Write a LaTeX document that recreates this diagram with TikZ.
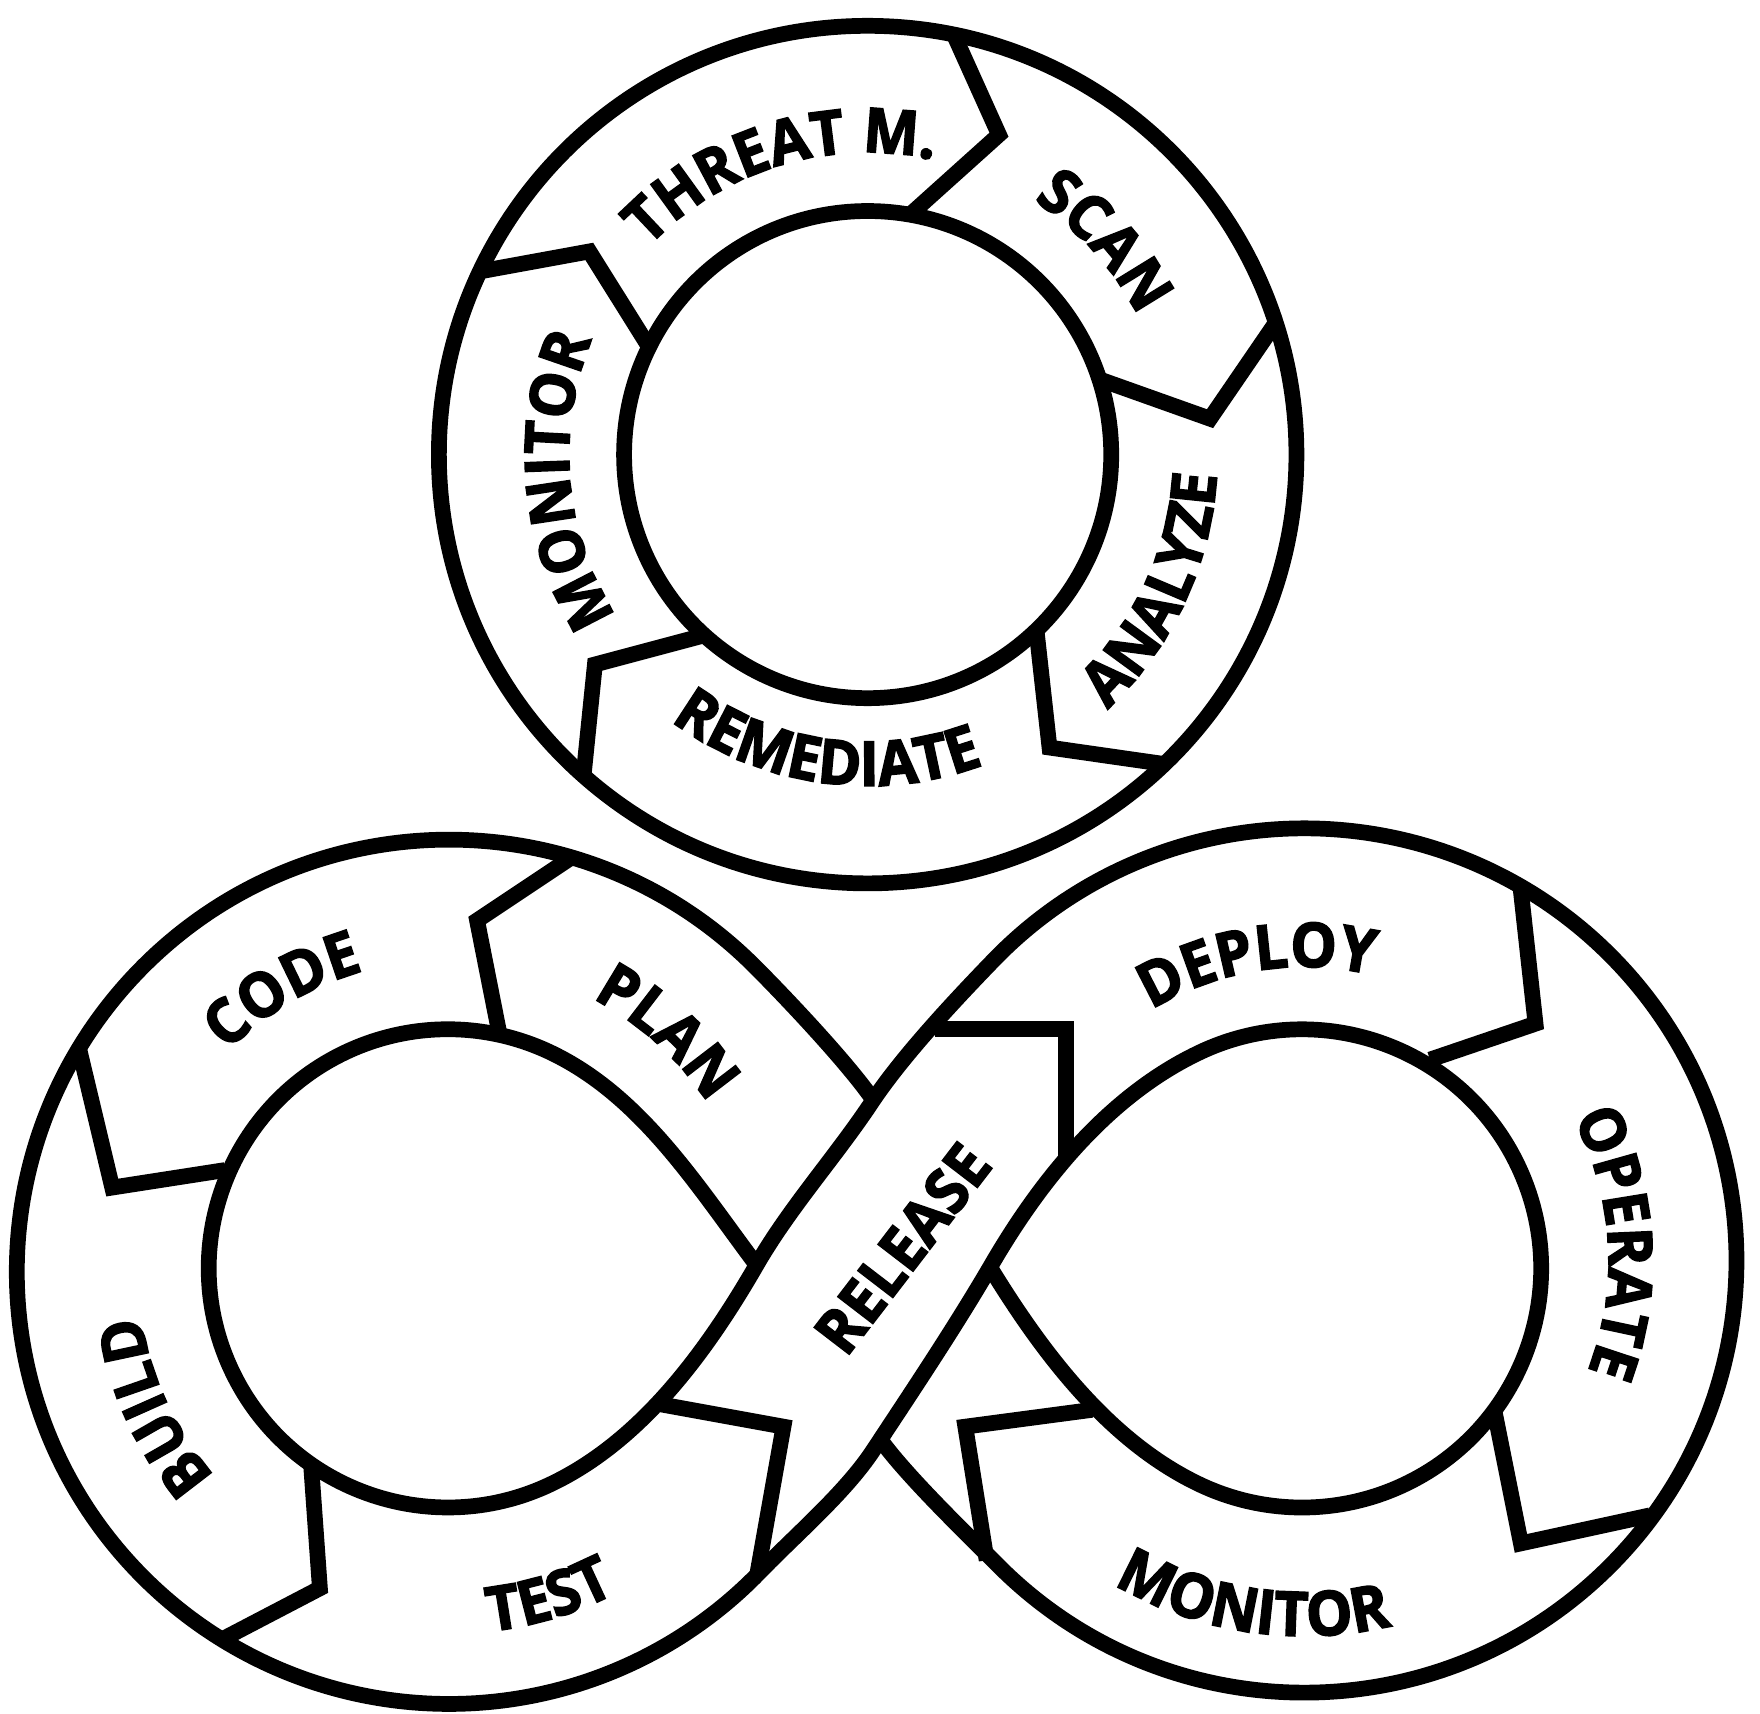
\documentclass[tikz,border=0pt]{standalone}
\usepackage{fontspec}
\setmainfont{Open Sans}[BoldFeatures={FakeBold=2.5,FakeStretch=0.95}]
\usetikzlibrary{decorations.text}
\newcommand\dvlbl{\fontsize{55}{64}\selectfont\bfseries}
\tikzset{
  band/.style={line width=14pt, line join=miter},
  lbl/.style={decorate, decoration={text along path, text={|\dvlbl|#1}, text align=center}},
}
\begin{document}
\begin{tikzpicture}[x=1pt,y=1pt]
\fill[white] (0,0) rectangle (1568,-1527);
\useasboundingbox (0,0) rectangle (1568,-1527);
\coordinate (topc) at (773,-405);
\coordinate (lc) at (400,-1133);
\coordinate (rc) at (1162,-1123);

% ---------- top ring ----------
\draw[band] (topc) circle[radius=382];
\draw[band] (topc) circle[radius=217];
\draw[band] (810.7,-191.3) -- (890,-120) -- (849.8,-30.8);
\draw[band] (979.4,-337.9) -- (1078,-373) -- (1136.5,-287.6);
\draw[band] (923.4,-561.4) -- (935,-666) -- (1037.4,-680.7);
\draw[band] (627.5,-566) -- (530,-592) -- (519.9,-691.1);
\draw[band] (578.3,-309.2) -- (525,-224) -- (427.6,-241.8);

% ---------- infinity band ----------
% boundary 1: left outer -> RELEASE lower edge -> right hole
\draw[band] (778,-980) .. controls (755.3,-947.1) and (700.5,-889.1) .. (672.2,-860.8)
  arc[start angle=45, end angle=316, radius=385]
  .. controls (708.2,-1368) and (753.3,-1329.6) .. (778,-1292)
  .. controls (813.2,-1238.6) and (850,-1183.6) .. (882,-1129)
  .. controls (927,-1051) and (988.5,-975.1) .. (1070,-937)
  arc[start angle=115, end angle=-115, radius=213]
  .. controls (988.5,-1284.9) and (928.8,-1205.5) .. (882,-1129);
% boundary 2: right outer -> RELEASE upper edge -> left hole
\draw[band] (784,-1282) .. controls (807.2,-1314.6) and (861.5,-1366.9) .. (889.8,-1395.2)
  arc[start angle=225, end angle=496, radius=385]
  .. controls (853.8,-887.9) and (806.1,-938.3) .. (778,-980)
  .. controls (745,-1030) and (704,-1075) .. (674,-1127)
  .. controls (629,-1205) and (570.5,-1284.9) .. (489,-1323)
  arc[start angle=295, end angle=65, radius=213]
  .. controls (570.5,-975.1) and (620,-1055) .. (674,-1127);

% chevrons left lobe
\draw[band] (509,-764) -- (425,-820) -- (444.5,-918.7);
\draw[band] (70.4,-934) -- (100,-1058) -- (200.5,-1042.4);
\draw[band] (277,-1303) -- (285,-1415) -- (197.7,-1460.6);
\draw[band] (588,-1251) -- (698,-1271) -- (674.6,-1402.8);
% chevrons right lobe
\draw[band] (973,-1256) -- (860,-1271) -- (879,-1390);
\draw[band] (1354.5,-789.6) -- (1368,-912) -- (1274,-944);
\draw[band] (1470,-1350) -- (1355,-1375) -- (1331,-1255);
\draw[band] (833,-917) -- (950,-917) -- (950,-1030);

% ---------- labels ----------
\path[lbl={THREAT M.}] ([shift={(167:269)}]topc) arc[start angle=167, end angle=47, radius=269];
\path[lbl={SCAN}] ([shift={(102:270.5)}]topc) arc[start angle=102, end angle=-18, radius=270.5];
\path[lbl={ANALYZE}] ([shift={(-85:311.5)}]topc) arc[start angle=-85, end angle=35, radius=311.5];
\path[lbl={REMEDIATE}] ([shift={(-158:295)}]topc) arc[start angle=-158, end angle=-38, radius=295];
\path[lbl={MONITOR}] ([shift={(245:266)}]topc) arc[start angle=245, end angle=125, radius=266];
\path[lbl={CODE}] ([shift={(180.5:278.5)}]lc) arc[start angle=180.5, end angle=60.5, radius=278.5];
\path[lbl={PLAN}] ([shift={(107.7:275)}]lc) arc[start angle=107.7, end angle=-12.3, radius=275];
\path[lbl={BUILD}] ([shift={(264.6:277)}]lc) arc[start angle=264.6, end angle=144.6, radius=277];
\path[lbl={TEST}] ([shift={(-133:322.5)}]lc) arc[start angle=-133, end angle=-13, radius=322.5];
\path[lbl={RELEASE}] (697.9,-1282.9) -- (941.5,-965.7);
\path[lbl={DEPLOY}] ([shift={(159:261.5)}]rc) arc[start angle=159, end angle=39, radius=261.5];
\path[lbl={OPERATE}] ([shift={(63.3:271)}]rc) arc[start angle=63.3, end angle=-56.7, radius=271];
\path[lbl={MONITOR}] ([shift={(-158.5:334.5)}]rc) arc[start angle=-158.5, end angle=-38.5, radius=334.5];
\end{tikzpicture}
\end{document}
